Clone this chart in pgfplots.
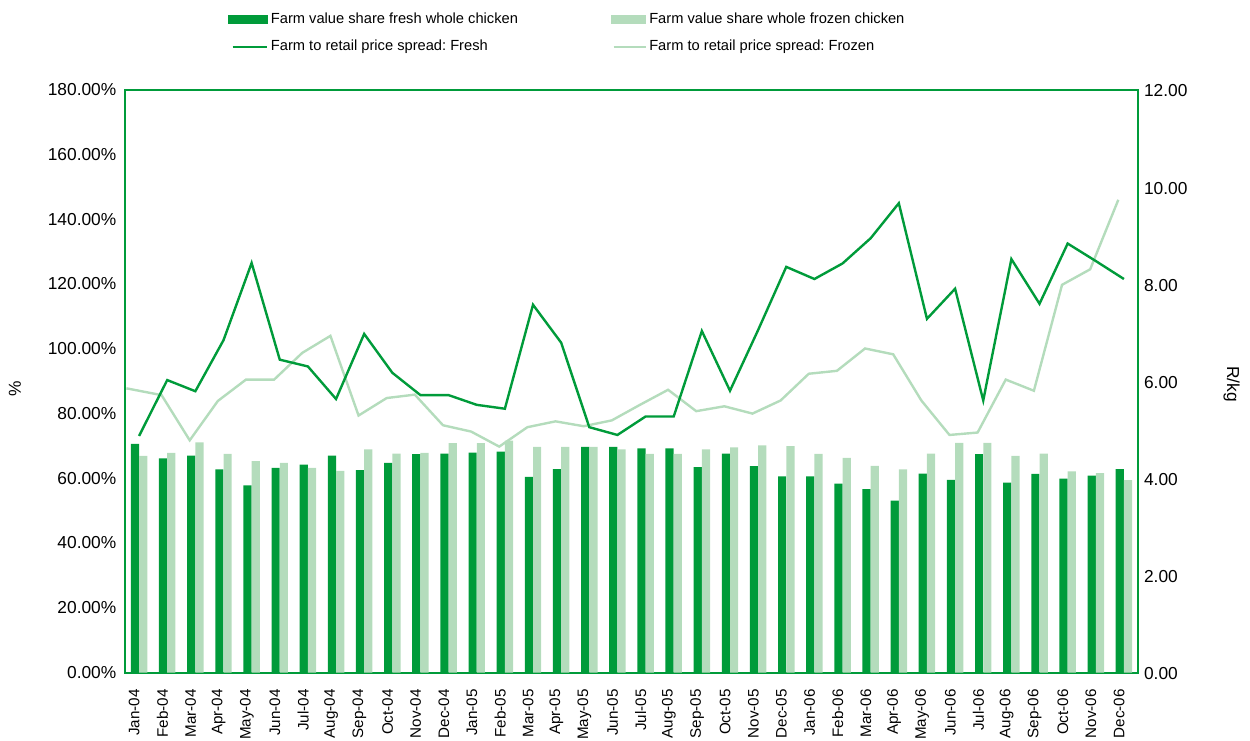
\documentclass[border=0pt]{standalone}
\usepackage{pgfplots}
\pgfplotsset{compat=1.18}
\usepackage{pgfplotstable}
\usepackage{fontspec}
\setmainfont{Liberation Sans}
\frenchspacing
\definecolor{dg}{HTML}{009B3A}
\definecolor{lg}{HTML}{B4DCBC}

\pgfplotstableread{
x fresh frozen
0 70.6 66.9
1 66.1 67.8
2 67.0 71.1
3 62.7 67.5
4 57.8 65.3
5 63.2 64.7
6 64.2 63.2
7 67.0 62.3
8 62.5 68.9
9 64.7 67.6
10 67.4 67.8
11 67.6 70.8
12 67.9 70.8
13 68.2 71.6
14 60.4 69.7
15 62.8 69.7
16 69.7 69.7
17 69.7 68.9
18 69.2 67.5
19 69.2 67.5
20 63.4 68.9
21 67.6 69.5
22 63.7 70.1
23 60.6 69.9
24 60.6 67.5
25 58.3 66.3
26 56.6 63.8
27 53.1 62.7
28 61.4 67.6
29 59.5 70.9
30 67.4 70.9
31 58.6 66.9
32 61.3 67.6
33 59.9 62.1
34 60.8 61.6
35 62.8 59.4
}\shares

\pgfplotstableread{
x fresh xf frozen
0 4.87 -0.45 5.85
1 6.02 0.8 5.71
2 5.79 1.8 4.78
3 6.84 2.8 5.59
4 8.43 3.8 6.03
5 6.44 4.8 6.03
6 6.30 5.8 6.58
7 5.63 6.8 6.93
8 6.97 7.8 5.29
9 6.17 8.8 5.65
10 5.71 9.8 5.72
11 5.71 10.8 5.09
12 5.51 11.8 4.96
13 5.43 12.8 4.65
14 7.57 13.8 5.05
15 6.79 14.8 5.17
16 5.05 15.8 5.07
17 4.89 16.8 5.19
18 5.27 17.8 5.51
19 5.27 18.8 5.82
20 7.03 19.8 5.38
21 5.80 20.8 5.48
22 7.05 21.8 5.33
23 8.35 22.8 5.60
24 8.10 23.8 6.15
25 8.42 24.8 6.21
26 8.94 25.8 6.67
27 9.66 26.8 6.55
28 7.28 27.8 5.60
29 7.90 28.8 4.89
30 5.60 29.8 4.94
31 8.51 30.8 6.03
32 7.59 31.8 5.80
33 8.83 32.8 7.98
34 8.47 33.8 8.30
35 8.10 34.8 9.73
}\spreads

\begin{document}
\begin{tikzpicture}
\pgfplotsset{
  every axis/.append style={
    scale only axis, width=759.75pt, height=437.25pt,
    xmin=-0.5, xmax=35.5,
    major tick length=0pt,
    /pgf/number format/assume math mode=true,
  },
}
\begin{axis}[
  name=main,
  ymin=0, ymax=180,
  ybar,
  axis line style={draw=dg, line width=1.5pt},
  xtick={0,...,35},
  xticklabels={Jan-04,Feb-04,Mar-04,Apr-04,May-04,Jun-04,Jul-04,Aug-04,Sep-04,Oct-04,Nov-04,Dec-04,Jan-05,Feb-05,Mar-05,Apr-05,May-05,Jun-05,Jul-05,Aug-05,Sep-05,Oct-05,Nov-05,Dec-05,Jan-06,Feb-06,Mar-06,Apr-06,May-06,Jun-06,Jul-06,Aug-06,Sep-06,Oct-06,Nov-06,Dec-06},
  xticklabel style={font=\fontsize{11.4}{12}\selectfont, xshift=-3.6pt, yshift=-9pt, rotate=90, anchor=east},
  ytick={0,20,...,180},
  yticklabel={\pgfmathprintnumber[fixed,fixed zerofill,precision=2]{\tick}\%},
  yticklabel style={font=\fontsize{13}{14}\selectfont, xshift=-3pt},
  ylabel={\%},
  ylabel style={font=\fontsize{13}{14}\selectfont, at={(axis description cs:-0.1086,0.486)}, anchor=center},
]
\addplot[fill=dg, draw=none, bar width=6.15pt, bar shift=-3.1pt] table[x=x,y=fresh]{\shares};
\addplot[fill=lg, draw=none, bar width=6.15pt, bar shift=3.1pt] table[x=x,y=frozen]{\shares};
\end{axis}
\begin{axis}[
  ymin=0, ymax=12,
  axis x line=none,
  axis y line*=right,
  axis line style={draw=dg, line width=1.5pt},
  ytick={0,2,...,12},
  yticklabel={\pgfmathprintnumber[fixed,fixed zerofill,precision=2]{\tick}},
  yticklabel style={font=\fontsize{13}{14}\selectfont, xshift=1pt, yshift=-1pt},
  ylabel={R/kg},
  ylabel style={font=\fontsize{13}{14}\selectfont, at={(axis description cs:1.0925,0.495)}, anchor=center, rotate=180},
  legend columns=2,
  legend cell align=left,
  legend style={
    at={(axis description cs:0.1017,1.137)}, anchor=north west,
    draw=none, fill=none, inner sep=0pt,
    font=\fontsize{11}{12}\selectfont,
    row sep=6pt,
    nodes={text height=8pt, text depth=2.5pt},
    /tikz/every even column/.append style={column sep=67.5pt},
  },
]
\addlegendimage{legend image code/.code={\fill[dg] (0pt,-3pt) rectangle (29pt,3pt);}}
\addlegendentry{Farm value share fresh whole chicken}
\addlegendimage{legend image code/.code={\fill[lg] (3pt,-3pt) rectangle (29pt,3pt);}}
\addlegendentry{Farm value share whole frozen chicken}
\addlegendimage{legend image code/.code={\draw[dg, line width=1.6pt] (3pt,0pt) -- (29pt,0pt);}}
\addlegendentry{Farm to retail price spread: Fresh}
\addlegendimage{legend image code/.code={\draw[lg, line width=1.6pt] (5pt,0pt) -- (29pt,0pt);}}
\addlegendentry{Farm to retail price spread: Frozen}
\addplot[lg, line width=1.8pt, mark=none, forget plot] table[x=xf,y=frozen]{\spreads};
\addplot[dg, line width=1.8pt, mark=none, forget plot] table[x=x,y=fresh]{\spreads};
\end{axis}
\pgfresetboundingbox
\path[use as bounding box] ([xshift=-93.75pt,yshift=-50.6pt]main.south west) rectangle ([xshift=843.75pt,yshift=504.4pt]main.south west);
\end{tikzpicture}
\end{document}
